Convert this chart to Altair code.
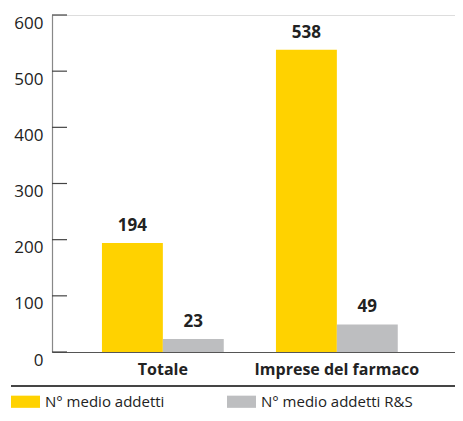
import altair as alt
import pandas as pd

categories = ["Totale", "Imprese del farmaco"]
series = ["N° medio addetti", "N° medio addetti R&S"]
values_addetti = [194, 538]
values_rs = [23, 49]
y_ticks = [0, 100, 200, 300, 400, 500, 600]
colors = ["#FFD200", "#BDBEC0"]

rows = []
for i, c in enumerate(categories):
    rows.append({"cat": c, "serie": series[0], "val": values_addetti[i]})
    rows.append({"cat": c, "serie": series[1], "val": values_rs[i]})
df = pd.DataFrame(rows)
ticks_df = pd.DataFrame({"t": y_ticks})

FONT = "Open Sans"

xenc = alt.X("cat:N", sort=categories, title=None,
             scale=alt.Scale(paddingInner=0.3, paddingOuter=0.308, align=0.466),
             axis=alt.Axis(labelAngle=0, labelFontWeight="bold", labelFontSize=16,
                           labelColor="#222", labelFont=FONT, labelPadding=9,
                           ticks=False, tickSize=0, domainColor="#555", domainWidth=1.2))
yscale = alt.Scale(domain=[0, 600])
yenc = alt.Y("val:Q", scale=yscale, title=None,
             axis=alt.Axis(values=y_ticks, grid=False, ticks=False, tickSize=0,
                           labelFontSize=17, labelColor="#222", labelFont=FONT,
                           labelBaseline="top", labelOffset=0, labelPadding=9,
                           domainColor="#888", domainWidth=1.2))
xoff = alt.XOffset("serie:N", sort=series, scale=alt.Scale(paddingInner=0, paddingOuter=0))

bars = alt.Chart(df).mark_bar().encode(
    x=xenc, xOffset=xoff, y=yenc,
    color=alt.Color("serie:N", sort=series, scale=alt.Scale(domain=series, range=colors),
                    legend=alt.Legend(title=None, orient="none", direction="horizontal",
                                      legendX=-41, legendY=372, padding=0,
                                      symbolType="M-1,-0.42L1,-0.42L1,0.42L-1,0.42Z",
                                      symbolSize=841, symbolStrokeWidth=0, symbolOpacity=1,
                                      labelFontSize=15, labelFont=FONT, labelColor="#222",
                                      labelOffset=5, columnPadding=62, labelLimit=300)),
)

text = alt.Chart(df).mark_text(baseline="bottom", dy=-8, fontSize=17, fontWeight="bold",
                               font=FONT, color="#222").encode(
    x=alt.X("cat:N", sort=categories), xOffset=xoff,
    y=alt.Y("val:Q", scale=yscale), text=alt.Text("val:Q"),
)

tickmarks = alt.Chart(ticks_df).mark_rule(color="#444", strokeWidth=1.2).encode(
    y=alt.Y("t:Q", scale=yscale), x=alt.value(0), x2=alt.value(15),
)

sep = alt.Chart(ticks_df).mark_rule(color="#444", strokeWidth=1.2, clip=False).encode(
    x=alt.value(-41), x2=alt.value(403), y=alt.value(371),
)

chart = alt.layer(bars, text, tickmarks, sep).properties(
    width=403, height=337,
    autosize=alt.AutoSizeParams(type="none"),
    padding={"left": 44, "top": 7, "right": 0, "bottom": 60},
).configure_view(stroke=None).configure(font=FONT)

chart.save("out.html", embed_options={"renderer": "svg", "actions": False})
